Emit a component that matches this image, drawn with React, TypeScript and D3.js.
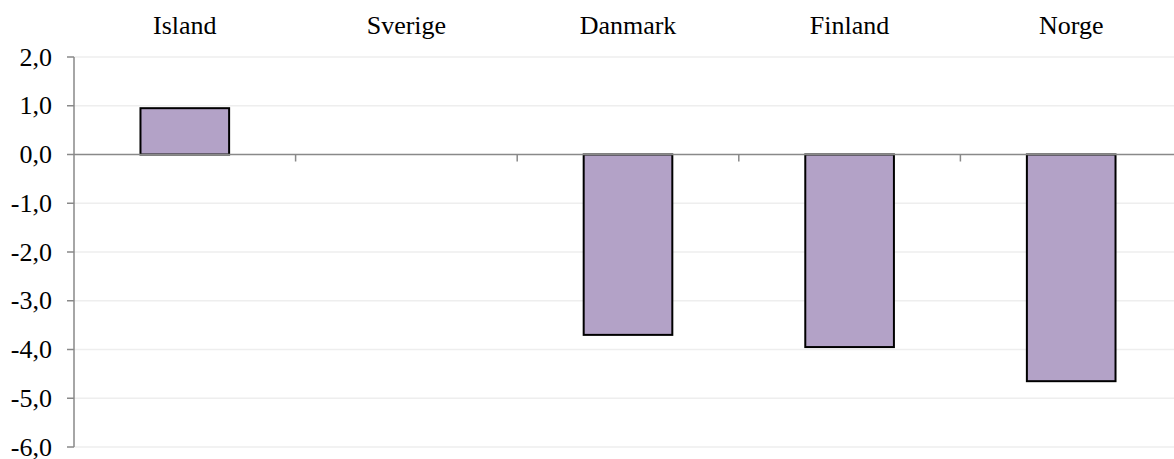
import * as React from "react";
import { scaleBand, scaleLinear } from "d3";

const categories = ["Island", "Sverige", "Danmark", "Finland", "Norge"];
const values = [0.95, 0, -3.7, -3.95, -4.65];
const yTicks = [2, 1, 0, -1, -2, -3, -4, -5, -6];

const fmt = (v: number) => v.toFixed(1).replace(".", ",");

export default function App() {
  const width = 1174;
  const height = 459;
  const left = 74;

  const x = scaleBand<string>().domain(categories).range([left, 1182]);
  const y = scaleLinear().domain([-6, 2]).range([447, 57]);
  const barW = x.bandwidth() * 0.4;
  const font = "'Liberation Serif', 'Times New Roman', serif";

  return (
    <svg
      width={width}
      height={height}
      style={{ position: "absolute", left: 0, top: 0, background: "#fff" }}
    >
      {yTicks.map((t) => (
        <g key={`t-${t}`}>
          {t !== 0 && (
            <line x1={left} x2={width} y1={y(t)} y2={y(t)} stroke="#eeeeee" strokeWidth={1.5} />
          )}
          <line x1={left - 7} x2={left} y1={y(t)} y2={y(t)} stroke="#898989" strokeWidth={1.5} />
          <text
            x={52}
            y={y(t) + 8.5}
            textAnchor="end"
            fontFamily={font}
            fontSize={26}
            fill="#000"
          >
            {fmt(t)}
          </text>
        </g>
      ))}

      {values.map((v, i) => {
        const c = categories[i];
        const cx = (x(c) as number) + x.bandwidth() / 2;
        if (v === 0) return null;
        return (
          <rect
            key={`bar-${c}`}
            x={cx - barW / 2}
            y={y(Math.max(0, v))}
            width={barW}
            height={Math.abs(y(v) - y(0))}
            fill="#b3a2c7"
            stroke="#000"
            strokeWidth={2}
          />
        );
      })}

      <line x1={left} x2={width} y1={y(0)} y2={y(0)} stroke="#898989" strokeWidth={1.5} />
      {categories.slice(1).map((c) => (
        <line
          key={`ct-${c}`}
          x1={x(c) as number}
          x2={x(c) as number}
          y1={y(0)}
          y2={y(0) + 7}
          stroke="#898989"
          strokeWidth={1.5}
        />
      ))}
      <line x1={left} x2={left} y1={y(2)} y2={y(-6)} stroke="#898989" strokeWidth={1.5} />

      {categories.map((c) => (
        <text
          key={`lbl-${c}`}
          x={(x(c) as number) + x.bandwidth() / 2}
          y={34}
          textAnchor="middle"
          fontFamily={font}
          fontSize={26}
          fill="#000"
        >
          {c}
        </text>
      ))}
    </svg>
  );
}
